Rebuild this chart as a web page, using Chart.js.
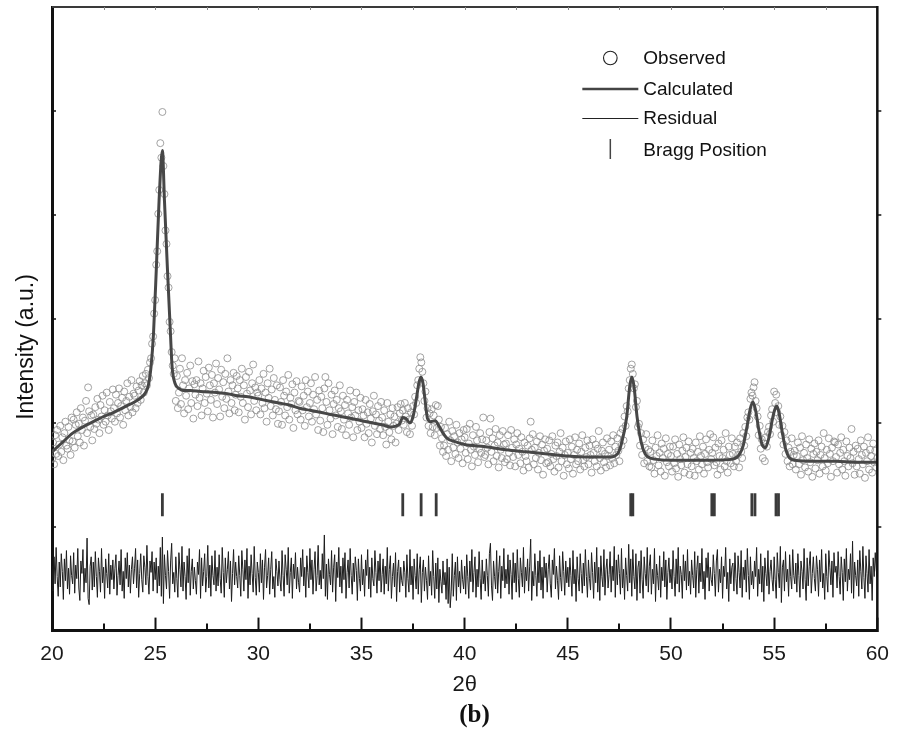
<!DOCTYPE html>
<html><head><meta charset="utf-8">
<script src="https://cdn.jsdelivr.net/npm/chart.js@4.4.1/dist/chart.umd.min.js"></script>
<style>html,body{margin:0;padding:0;background:#fff;}#wrap{width:897px;height:731px;position:relative;}</style>
</head><body><div id="wrap"><canvas id="c" width="897" height="731"></canvas></div>
<script>
// ---- data (intensity in arbitrary units) ----
const obsStart = 20, obsStep = 0.05;
const observed = [
165,181,160,188,170,193,168,179,197,172,186,164,190,201,178,175,196,183,169,205,
182,203,176,198,210,187,199,181,214,193,205,178,202,221,190,234,211,196,207,183,
208,194,215,199,223,203,190,217,206,226,198,212,201,229,207,193,220,211,204,232,
214,201,227,209,219,233,205,216,224,198,230,212,221,238,207,225,215,241,210,228,
226,214,235,219,231,240,222,236,245,229,238,247,236,251,243,258,262,276,283,305,
318,352,365,401,424,469,455,499,447,420,385,372,341,330,297,288,268,255,247,262,
221,245,214,229,252,218,262,236,209,241,226,248,213,233,255,219,240,204,237,227,
241,216,259,224,238,207,233,250,219,244,228,211,253,236,222,246,205,238,229,257,
218,243,232,206,251,225,239,214,247,223,262,230,209,241,219,236,248,212,227,245,
233,210,241,225,252,219,236,203,244,228,215,249,231,208,238,256,221,234,212,229,
226,241,208,233,219,247,214,229,201,238,224,252,216,232,207,243,222,213,236,199,
211,234,220,198,241,226,207,230,215,246,203,224,218,237,195,229,212,240,208,221,
220,203,235,212,226,197,241,215,230,206,219,238,201,227,213,244,208,222,193,231,
202,225,214,191,233,244,220,198,238,212,204,227,189,218,231,207,222,196,214,236,
211,194,226,203,217,188,222,209,198,231,205,215,186,220,207,229,193,212,201,224,
195,213,207,186,222,199,210,190,218,204,181,211,226,197,208,189,216,202,194,220,
205,188,212,196,179,219,201,191,208,184,214,197,206,181,199,215,193,209,218,202,
212,198,219,206,191,214,203,189,210,197,216,208,225,219,236,241,252,263,258,249,
238,221,230,205,214,197,209,190,213,196,207,188,217,195,216,203,178,196,185,172,
178,195,168,189,174,201,183,163,192,176,187,170,198,181,166,190,175,184,161,193,
186,171,194,165,180,199,174,158,188,177,169,196,183,162,175,190,171,184,205,167,
169,183,176,160,191,204,172,185,163,178,194,168,181,157,188,174,166,192,179,162,
180,165,188,171,159,193,176,167,184,158,179,190,169,175,161,186,172,154,181,168,
163,178,157,185,201,174,189,160,176,166,182,155,171,187,164,179,150,173,184,161,
175,162,183,158,170,187,165,153,178,168,181,157,172,190,163,176,149,169,182,160,
171,156,184,165,177,151,169,186,160,174,163,180,155,172,188,164,158,176,167,183,
160,178,169,152,184,171,163,179,158,175,192,166,154,173,181,162,170,157,185,168,
174,159,182,166,188,161,177,169,185,173,163,190,178,194,183,206,197,216,211,233,
241,252,256,247,233,237,215,221,196,199,178,190,169,184,161,176,189,163,174,158,
172,157,183,164,151,176,168,188,159,171,153,180,166,175,149,185,162,170,158,177,
168,153,177,161,184,156,170,148,179,165,159,173,186,152,167,176,160,182,150,171,
158,175,166,149,181,163,172,155,187,168,160,177,151,170,184,162,157,174,189,165,
171,186,159,176,162,150,180,168,155,183,166,174,158,190,163,152,177,169,161,185,
170,158,177,163,181,169,157,185,172,166,190,178,196,187,205,210,203,223,229,226,
234,239,221,214,206,188,197,175,184,166,180,163,186,177,191,196,189,207,213,201,
230,219,227,210,216,198,206,188,197,179,191,170,183,163,176,158,172,185,160,169,
173,155,168,181,160,176,150,187,164,171,157,179,166,153,184,162,175,148,170,180,
156,172,164,183,151,169,177,158,190,166,154,174,161,185,170,148,176,163,182,181,
167,152,179,160,171,186,155,174,163,149,182,168,158,176,166,194,161,172,150,178,
158,175,165,151,183,169,160,177,147,171,163,186,155,174,168,152,180,162,173,157,
166];
const residual = [
62,38,71,45,80,52,33,66,42,74,57,30,69,48,77,40,60,35,72,53,
45,75,36,63,50,79,41,29,67,55,78,37,60,46,89,31,25,62,71,39,
66,42,76,52,32,70,57,37,79,46,61,31,69,55,41,74,35,63,49,68,
40,60,73,34,53,67,44,78,38,57,31,70,50,75,42,63,36,59,71,45,
60,79,41,68,32,55,74,49,37,72,61,44,82,52,35,67,56,76,38,66,
49,70,36,62,43,80,33,90,26,73,53,40,77,57,31,67,84,45,56,37,
71,50,32,75,59,42,81,38,66,52,30,72,46,79,34,57,69,40,61,48,
35,66,54,78,31,70,43,57,74,37,52,82,41,63,33,72,53,44,77,38,
61,43,73,50,36,80,56,32,70,46,59,76,40,67,28,55,78,44,66,52,
41,72,53,33,77,59,38,68,49,79,31,62,44,73,55,37,81,51,34,66,
56,37,74,46,68,30,61,78,41,53,70,35,59,76,40,52,32,69,57,43,
67,49,38,77,53,33,73,59,44,80,36,56,70,31,64,50,75,40,61,46,
37,70,52,78,43,61,32,72,56,41,79,49,68,35,59,76,38,53,82,44,
58,40,74,50,92,33,64,30,69,54,44,77,37,61,73,28,66,51,80,42,
62,36,70,49,75,31,56,68,41,79,53,35,65,47,71,58,29,69,50,38,
73,44,59,33,68,53,78,40,61,32,70,50,43,77,56,36,67,48,74,37,
54,69,35,62,45,80,38,59,72,31,52,65,42,75,28,57,68,37,61,48,
43,67,56,32,73,50,37,78,44,62,30,69,53,40,74,35,59,71,27,56,
68,38,61,48,30,72,43,57,34,77,52,31,65,40,70,27,59,47,36,67,
44,56,30,69,26,61,22,38,74,33,53,66,29,71,42,57,36,68,49,40,
62,35,73,52,31,67,47,78,37,56,71,32,59,42,76,50,30,68,45,57,
38,69,53,33,74,84,43,29,67,52,40,77,36,57,72,31,62,48,79,41,
59,45,73,35,68,54,30,75,46,65,37,78,50,32,70,56,42,80,36,61,
48,69,38,62,88,29,57,43,74,53,33,67,46,77,39,61,31,71,51,65,
37,59,73,45,32,68,54,79,40,62,48,30,72,51,38,76,57,34,67,46,
61,42,70,53,33,77,45,59,28,71,50,38,74,55,36,65,43,78,52,32,
68,50,39,75,56,31,66,46,80,37,61,29,72,52,42,78,34,59,69,41,
54,76,37,62,48,81,32,68,44,73,55,35,79,41,59,30,70,53,38,83,
46,69,33,78,52,40,74,29,61,67,36,77,49,31,71,55,43,80,37,62,
73,35,59,45,79,28,64,53,39,72,32,61,48,76,42,68,30,56,70,46,
59,40,77,52,33,69,45,80,37,62,54,31,73,48,67,39,78,43,57,35,
68,53,41,76,32,59,72,36,65,47,79,40,57,30,70,51,75,38,61,49,
43,73,55,33,67,78,37,59,46,71,31,62,52,80,40,56,28,69,45,61,
65,38,75,50,35,72,56,41,77,32,61,49,68,37,79,53,30,71,44,57,
40,67,52,80,33,59,45,74,37,62,28,70,55,43,77,35,57,68,49,38,
71,49,31,75,56,41,81,27,61,68,38,76,47,59,33,73,52,40,78,53,
45,65,37,74,53,32,67,57,40,79,49,29,70,43,62,76,36,55,71,50,
38,72,59,33,68,47,78,41,55,30,74,52,37,77,61,44,67,32,75,56,
62,41,76,52,35,71,56,29,69,47,79,38,59,49,74,36,86,31,66,53,
43,68,33,77,57,40,81,51,31,72,55,37,78,45,62,29,70,52,75,58,
50];
const calcX = [20,20.5,21,21.5,22,22.5,23,23.5,24,24.3,24.5,24.67,24.8,24.92,25.06,25.19,25.35,25.45,25.59,25.74,25.82,25.96,26.15,26.35,26.7,27.2,28,28.5,29,29.5,30,30.5,31,31.5,32,32.5,33,33.5,34,34.5,35,35.5,36,36.4,36.7,36.85,37.0,37.15,37.35,37.5,37.65,37.78,37.88,37.98,38.08,38.2,38.35,38.57,38.75,38.95,39.15,39.5,40,41,42,43,44,45,46,47,47.4,47.6,47.85,48.0,48.1,48.2,48.36,48.57,48.75,49,50,51,52,53,53.3,53.5,53.7,53.85,53.97,54.1,54.25,54.4,54.57,54.75,54.9,55.02,55.13,55.25,55.4,55.55,55.75,56,57,58,59,60];
const calcY = [172,181,190,196,201,206,210,215,220,224,228,236,254,286,350,414,462,414,350,286,254,238,233,231,231,230,229,228,226,225,223,221,219,217,214,212,210,208,206,204,202,200,198,196,197,199,205,204,200,206,222,238,244,238,222,204,201,202,197,190,185,182,179,177,174,172,170,168,167,167,170,180,205,235,244,236,205,180,170,166,164,164,164,165,169,178,198,214,220,212,194,180,176,186,202,212,216,208,190,175,166,164,163,163,162,162];
const braggX = [25.35,37.0,37.89,38.62,48.05,48.15,51.98,52.1,53.92,54.07,55.09,55.21];
const braggLevel = 121;
const xMajorStep = 5;
const xMinorTicks = [22.5,27.5,32.5,37.5,42.5,47.5,52.5,57.5];
const xTopTicks = [22.5,25,27.5,30,32.5,35,37.5,40,42.5,45,47.5,50,52.5,55,57.5];
const yTickValues = [100,200,300,400,500];
const legendLabels = ['Observed','Calculated','Residual','Bragg Position'];
const xTitle = '2\u03b8', yTitle = 'Intensity (a.u.)', panelLabel = '(b)';

// ---- build datasets ----
const obsPts = observed.map((v, i) => ({x: +(obsStart + i * obsStep).toFixed(2), y: v}));
const resPts = residual.map((v, i) => ({x: +(obsStart + i * obsStep).toFixed(2), y: v}));
const calcPts = calcX.map((x, i) => ({x, y: calcY[i]}));
const braggPts = braggX.map(x => ({x, y: braggLevel}));

const SANS = '"Liberation Sans", Arial, Helvetica, sans-serif';

const framePlugin = {
  id: 'frame',
  afterDraw(chart) {
    const {ctx, chartArea: a, scales: {x, y}} = chart;
    ctx.save();
    ctx.lineCap = 'butt';
    ctx.strokeStyle = '#3a3a3a'; ctx.lineWidth = 2;
    ctx.beginPath(); ctx.moveTo(a.left, a.top); ctx.lineTo(a.right, a.top); ctx.stroke();
    ctx.strokeStyle = '#111'; ctx.lineWidth = 2.5;
    ctx.beginPath(); ctx.moveTo(a.right, a.top - 1); ctx.lineTo(a.right, a.bottom + 1.5); ctx.stroke();
    ctx.strokeStyle = '#111'; ctx.lineWidth = 2;
    xMinorTicks.forEach(v => {
      const px = Math.round(x.getPixelForValue(v));
      ctx.beginPath(); ctx.moveTo(px, a.bottom); ctx.lineTo(px, a.bottom - 7); ctx.stroke();
    });
    ctx.strokeStyle = '#888'; ctx.lineWidth = 1;
    xTopTicks.forEach(v => {
      const px = Math.round(x.getPixelForValue(v)) + 0.5;
      ctx.beginPath(); ctx.moveTo(px, a.top); ctx.lineTo(px, a.top + 3); ctx.stroke();
    });
    ctx.strokeStyle = '#111'; ctx.lineWidth = 1.5;
    yTickValues.forEach(v => {
      const py = Math.round(y.getPixelForValue(v));
      ctx.beginPath(); ctx.moveTo(a.left, py); ctx.lineTo(a.left + 4, py); ctx.stroke();
      ctx.beginPath(); ctx.moveTo(a.right, py); ctx.lineTo(a.right + 4, py); ctx.stroke();
    });
    ctx.fillStyle = '#111';
    ctx.font = '23px ' + SANS;
    ctx.textAlign = 'center'; ctx.textBaseline = 'alphabetic';
    ctx.translate(33, 347); ctx.rotate(-Math.PI / 2);
    ctx.fillText(yTitle, 0, 0);
    ctx.restore();

    // legend
    ctx.save();
    const sx = a.right - 267, tx = a.right - 234;
    const rows = [58, 89, 118, 150];
    ctx.font = '19px ' + SANS; ctx.fillStyle = '#111';
    ctx.textAlign = 'left'; ctx.textBaseline = 'middle';
    ctx.strokeStyle = '#222'; ctx.lineWidth = 1.1;
    ctx.beginPath(); ctx.arc(sx, rows[0], 6.8, 0, Math.PI * 2); ctx.stroke();
    ctx.strokeStyle = '#444'; ctx.lineWidth = 2.6;
    ctx.beginPath(); ctx.moveTo(sx - 28, rows[1]); ctx.lineTo(sx + 28, rows[1]); ctx.stroke();
    ctx.strokeStyle = '#222'; ctx.lineWidth = 1;
    ctx.beginPath(); ctx.moveTo(sx - 28, rows[2] + 0.5); ctx.lineTo(sx + 28, rows[2] + 0.5); ctx.stroke();
    ctx.strokeStyle = '#444'; ctx.lineWidth = 1.5;
    ctx.beginPath(); ctx.moveTo(sx, rows[3] - 11); ctx.lineTo(sx, rows[3] + 9); ctx.stroke();
    legendLabels.forEach((t, i) => ctx.fillText(t, tx, rows[i] + 1));
    ctx.restore();
  }
};

new Chart(document.getElementById('c'), {
  type: 'scatter',
  data: {
    datasets: [
      {label: 'Calculated', type: 'line', data: calcPts, borderColor: '#474747', borderWidth: 3,
       pointRadius: 0, cubicInterpolationMode: 'monotone', fill: false, order: 0},
      {label: 'Observed', data: obsPts, showLine: false, pointRadius: 3.5, pointBorderWidth: 0.8,
       borderColor: '#8c8c8c', backgroundColor: 'rgba(0,0,0,0)', pointHoverRadius: 3.5, order: 2},
      {label: 'Residual', type: 'line', data: resPts, borderColor: '#1e1e1e', borderWidth: 1,
       pointRadius: 0, tension: 0, fill: false, order: 1},
      {label: 'Bragg Position', data: braggPts, showLine: false, pointStyle: 'line', rotation: 90,
       pointRadius: 11.5, pointBorderWidth: 2.8, borderColor: '#3a3a3a', order: 1}
    ]
  },
  options: {
    responsive: false, animation: false, devicePixelRatio: 1,
    layout: {autoPadding: false, padding: {left: 52, right: 0, top: 7, bottom: 0}},
    plugins: {
      legend: {display: false}, tooltip: {enabled: false},
      title: {display: true, text: panelLabel, position: 'bottom', color: '#111',
              font: {family: '"Liberation Serif", "Times New Roman", serif', size: 25, weight: 'bold'},
              padding: {top: 3, bottom: 0}}
    },
    scales: {
      x: {type: 'linear', position: 'bottom', min: 20, max: 60,
          ticks: {stepSize: xMajorStep, padding: 8, color: '#1a1a1a', maxRotation: 0,
                  font: {family: SANS, size: 21, lineHeight: '58px'}},
          grid: {drawOnChartArea: false, tickLength: -13, tickWidth: 2, tickColor: '#111'},
          border: {display: true, width: 3, color: '#111'},
          title: {display: true, text: xTitle, color: '#1a1a1a', font: {family: SANS, size: 22},
                  padding: {top: -20, bottom: 0}}},
      y: {type: 'linear', position: 'left', min: 0, max: 600,
          ticks: {display: false, stepSize: 100},
          grid: {drawOnChartArea: false, drawTicks: false},
          border: {display: true, width: 3, color: '#111'}}
    }
  },
  plugins: [framePlugin]
});
</script>
</body></html>
